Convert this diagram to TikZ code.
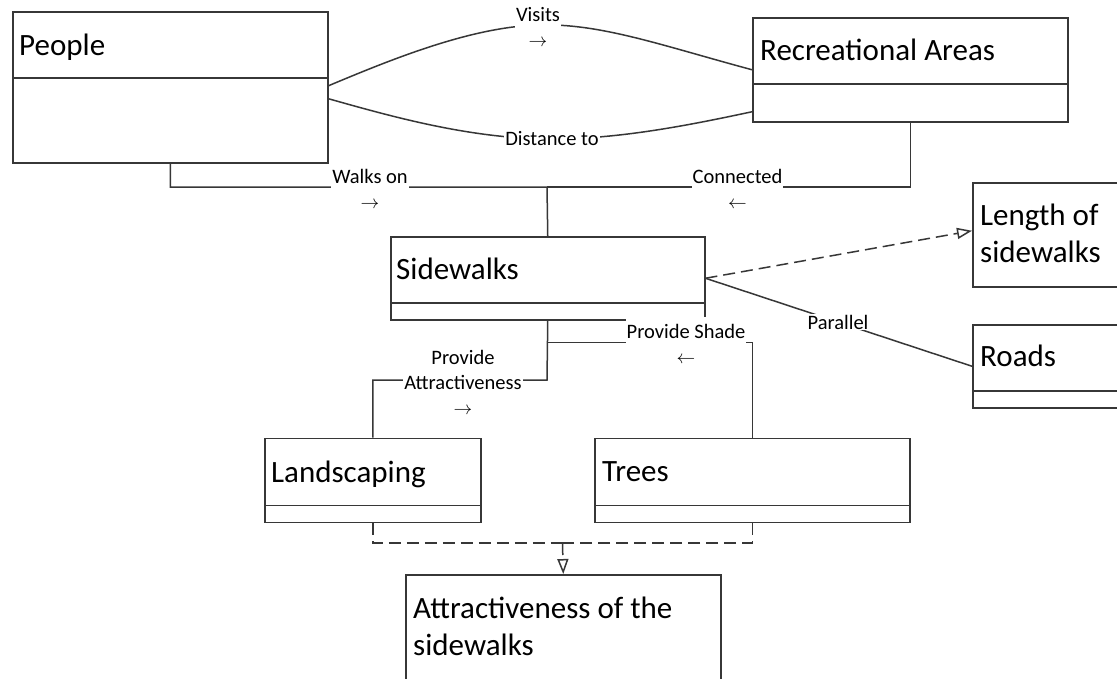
\documentclass[tikz,border=0pt]{standalone}
\usepackage{fontspec}
\setmainfont{Carlito}
\usetikzlibrary{arrows.meta}
\definecolor{edge}{RGB}{55,55,55}
% small arrows that show the reading direction of an association
\newcommand{\rarr}{\scalebox{0.9}{$\rightarrow$}}
\newcommand{\larr}{\scalebox{0.9}{$\leftarrow$}}
\begin{document}
\begin{tikzpicture}[x=1pt,y=-1pt,
  classbox/.style={draw=edge, line width=1.5pt, fill=white, rectangle, inner sep=0pt},
  title/.style={anchor=base west, inner sep=0pt, font=\fontsize{31}{37}\selectfont, text=black},
  link/.style={draw=edge, line width=1.5pt},
  divider/.style={draw=edge, line width=1.5pt},
  dashlink/.style={link, dash pattern=on 12pt off 6pt},
  dep/.style={dashlink, -{Triangle[open, length=15pt, width=11pt, fill=white]}},
  tag/.style={fill=white, inner xsep=1pt, inner ysep=1pt, align=center,
    font=\fontsize{20.5}{25}\selectfont, text=black},
]
\useasboundingbox (0,0) rectangle (1117,678);
\clip (0,0) rectangle (1117,678);
\fill[white] (0,0) rectangle (1117,678);

% ---- classes ----
\node[classbox, minimum width=315pt, minimum height=151pt, anchor=north west] (people) at (12,11) {};
\draw[divider] ([yshift=-67pt]people.north west) -- ([yshift=-67pt]people.north east);
\node[title] (tpeople) at (19,55) {People};

\node[classbox, minimum width=315pt, minimum height=104pt, anchor=north west] (rec) at (752,17) {};
\draw[divider] ([yshift=-67pt]rec.north west) -- ([yshift=-67pt]rec.north east);
\node[title] (trec) at (760,60) {Recreational Areas};

\node[classbox, minimum width=314pt, minimum height=83pt, anchor=north west] (side) at (390,236) {};
\draw[divider] ([yshift=-67pt]side.north west) -- ([yshift=-67pt]side.north east);
\node[title] (tside) at (396,279) {Sidewalks};

\node[classbox, minimum width=315pt, minimum height=104pt, anchor=north west] (len) at (972,182) {};
\node[title] (tlen1) at (980,225) {Length of};
\node[title] (tlen2) at (980,262) {sidewalks};

\node[classbox, minimum width=315pt, minimum height=83pt, anchor=north west] (roads) at (972,324) {};
\draw[divider] ([yshift=-67pt]roads.north west) -- ([yshift=-67pt]roads.north east);
\node[title] (troads) at (980,366.7) {Roads};

\node[classbox, minimum width=216pt, minimum height=84pt, anchor=north west] (land) at (264,437.7) {};
\draw[divider] ([yshift=-68pt]land.north west) -- ([yshift=-68pt]land.north east);
\node[title] (tland) at (271,482.7) {Landscaping};

\node[classbox, minimum width=315pt, minimum height=84pt, anchor=north west] (trees) at (594,437.7) {};
\draw[divider] ([yshift=-68pt]trees.north west) -- ([yshift=-68pt]trees.north east);
\node[title] (ttrees) at (602,481.7) {Trees};

\node[classbox, minimum width=315pt, minimum height=120pt, anchor=north west] (attr) at (405,574) {};
\node[title] (tattr1) at (413,618) {Attractiveness of the};
\node[title] (tattr2) at (413,655) {sidewalks};

% ---- associations ----
\draw[link] ([yshift=1.5pt]people.east) .. controls (390,60) and (470,27) .. (538,25)
  .. controls (600,23) and (660,45) .. (rec.west);
\draw[link] ([yshift=-11.5pt]people.east) .. controls (390,116) and (470,139) .. (552,139)
  .. controls (620,139) and (690,125) .. ([yshift=-42pt]rec.west);

\coordinate (jtop) at (547,187);
\draw[link] (people.south) |- (jtop) -- (side.north);
\draw[link] (rec.south) |- (jtop);

\coordinate (jshade) at (547,342.7);
\coordinate (jattr) at (547,380);
\draw[link] (side.south) -- (jattr) -| (land.north);
\draw[link] (trees.north) |- (jshade);

\draw[link] (side.east) -- (roads.west);
\draw[dep] (side.east) -- ([yshift=4pt]len.west);

% ---- dependencies towards the attractiveness class ----
\coordinate (jbot) at (562.5,543);
\draw[dashlink] (land.south) |- (jbot);
\draw[dashlink] (trees.south) |- (jbot);
\draw[dep] (jbot) -- (attr.north);

% ---- association labels ----
\node[tag] (lvisits) at (538,27) {Visits\\\rarr};
\node[tag] (ldist) at (552,139) {Distance to};
\node[tag] (lwalks) at (370,189) {Walks on\\\rarr};
\node[tag] (lconn) at (737.5,189) {Connected\\\larr};
\node[tag] (lpar) at (838,322) {Parallel};
\node[tag] (lattr) at (463,382) {Provide\\Attractiveness\\\rarr};
\node[tag, inner ysep=7pt] (lshade) at (686,344) {Provide Shade\\\larr};
\end{tikzpicture}
\end{document}
